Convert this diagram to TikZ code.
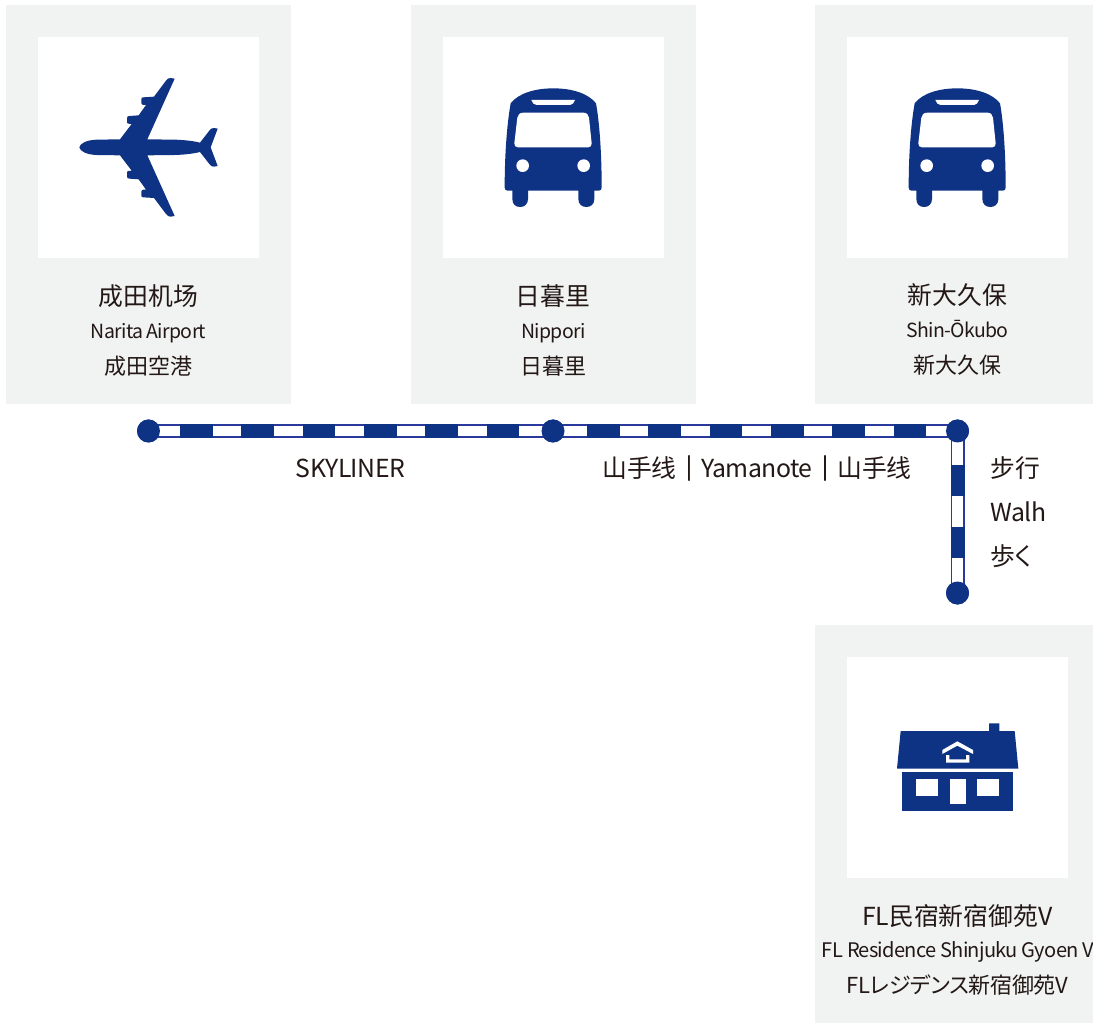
\documentclass[tikz,border=0pt]{standalone}
\usepackage{fontspec}
\setmainfont{Noto Sans CJK SC}
\newfontfamily\jpfont[RawFeature=+palt]{Noto Sans CJK JP}
\newfontfamily\jptight[RawFeature=+palt,LetterSpace=-1.5]{Noto Sans CJK JP}
\newfontfamily\tightfont[LetterSpace=-3.5]{Noto Sans CJK SC}
\newfontfamily\latinfont[LetterSpace=-2]{Noto Sans CJK SC}
\newfontfamily\barfont[FakeBold=2.5]{Noto Sans CJK SC}
\definecolor{navy}{HTML}{0F3384}
\definecolor{edgeblue}{HTML}{2A3A9C}
\definecolor{panelgrey}{HTML}{F1F3F3}
\definecolor{ink}{HTML}{231815}
\tikzset{
  panel/.style={fill=panelgrey,inner sep=0pt,minimum height=399*0.75pt,text width=0pt},
  tile/.style={fill=white,inner sep=0pt,minimum width=221*0.75pt,minimum height=221*0.75pt},
  stop/.style={circle,fill=navy,inner sep=0pt,minimum size=23*0.75pt},
  label/.style={text=ink,inner sep=0pt,anchor=center,align=center},
  big/.style={label,font=\fontsize{18.6pt}{22pt}\selectfont},
  small/.style={label,anchor=base,font=\tightfont\fontsize{14.6pt}{18pt}\selectfont},
  mid/.style={label,font=\jpfont\fontsize{16.5pt}{20pt}\selectfont},
  routebase/.style={line width=14*0.75pt,edgeblue},
  routewhite/.style={line width=10.5*0.75pt,white},
  routedark/.style={line width=14*0.75pt,navy},
  icon/.style={fill=navy,draw=none},
  iconw/.style={fill=white,draw=none},
  zoomed/.style={x=0.25pt,y=-0.25pt}
}
\newcommand{\busicon}{%
  \fill[icon] (62,85) .. controls (85,55) and (135,40) .. (190,40) .. controls (245,40) and (295,55) .. (318,85)
    .. controls (328,140) and (335,230) .. (335,338) .. controls (335,344) and (332,347) .. (326,347)
    -- (313,347) -- (313,372) .. controls (313,388) and (302,396) .. (289,396) .. controls (276,396) and (265,388) .. (265,372) -- (265,347)
    -- (114,347) -- (114,372) .. controls (114,388) and (103,396) .. (90,396) .. controls (77,396) and (67,388) .. (67,372) -- (67,347)
    -- (53,347) .. controls (47,347) and (44,344) .. (44,338) .. controls (44,230) and (52,140) .. (62,85) -- cycle;
  \fill[iconw] (100,113) -- (280,113) .. controls (290,113) and (296,119) .. (297,128) -- (305,205)
    .. controls (305,212) and (302,217) .. (295,217) -- (84,217) .. controls (77,217) and (72,212) .. (73,205) -- (82,128) .. controls (83,119) and (90,113) .. (100,113) -- cycle;
  \fill[iconw] (98,272) circle [radius=19];
  \fill[iconw] (281,272) circle [radius=19];
  \fill[iconw] (124,75) -- (255,75) .. controls (252,84) and (247,90) .. (240,90) -- (140,90) .. controls (132,90) and (127,84) .. (124,75) -- cycle;
}
\begin{document}
\begin{tikzpicture}[x=0.75pt,y=-0.75pt]
\useasboundingbox (0,0) rectangle (1093,1023);
\fill[white] (0,0) rectangle (1093,1023);
% panels
\node[panel,minimum width=285*0.75pt] (p1) at (148.5,204.5) {};
\node[panel,minimum width=285*0.75pt] (p2) at (553.5,204.5) {};
\node[panel,minimum width=278*0.75pt] (p3) at (954,204.5) {};
\node[panel,minimum width=278*0.75pt] (p4) at (954,824) {};
\node[tile] (t1) at (148.5,147.5) {};
\node[tile] (t2) at (553.5,147.5) {};
\node[tile] (t3) at (957.5,147.5) {};
\node[tile] (t4) at (957.5,767.5) {};
% plane
\begin{scope}[shift={(60,60)},zoomed]
\fill[icon] (58,262) .. controls (60,250) and (80,240) .. (110,239) -- (180,238) -- (215,192) -- (205,191) .. controls (201,190) and (201,188) .. (201,184)
 -- (201,175) .. controls (201,170) and (203,168) .. (208,168) -- (236,166) -- (258,135) -- (250,135) .. controls (245,134) and (244,132) .. (244,128)
 -- (244,118) .. controls (244,113) and (246,112) .. (250,112) -- (282,110) -- (318,62) .. controls (322,56) and (326,54) .. (332,54) -- (344,56)
 -- (262,238) -- (345,239) .. controls (375,240) and (400,243) .. (420,248) -- (448,212) .. controls (452,206) and (456,204) .. (462,204) -- (473,206)
 -- (452,262) -- (473,318) -- (462,320) .. controls (456,320) and (452,318) .. (448,312) -- (420,276) .. controls (400,281) and (375,284) .. (345,285)
 -- (262,286) -- (344,468) -- (332,470) .. controls (326,470) and (322,468) .. (318,462) -- (282,414) -- (250,412) .. controls (246,412) and (244,411) .. (244,406)
 -- (244,396) .. controls (244,392) and (245,390) .. (250,389) -- (258,389) -- (236,358) -- (208,356) .. controls (203,356) and (201,354) .. (201,349)
 -- (201,340) .. controls (201,336) and (201,334) .. (205,333) -- (215,332) -- (180,286) -- (110,285) .. controls (80,284) and (60,274) .. (58,262) -- cycle;
\end{scope}
% buses
\begin{scope}[shift={(490,75)},zoomed]\busicon\end{scope}
\begin{scope}[shift={(894,75)},zoomed]\busicon\end{scope}
% house
\begin{scope}[shift={(885,710)},zoomed]
\fill[icon] (47,63) -- (312,63) -- (312,40) -- (343,40) -- (343,63) -- (389,63) -- (400,176) -- (36,176) -- cycle;
\fill[icon] (52,186) rectangle (384,304);
\fill[iconw] (93,206) rectangle (159,258);
\fill[iconw] (194,206) rectangle (242,283);
\fill[iconw] (277,206) rectangle (343,258);
\fill[iconw] (172,120) -- (217,94) -- (264,120) -- (264,132) -- (217,107) -- (172,132) -- cycle;
\fill[iconw] (183,135) -- (183,158) -- (253,158) -- (253,135) -- (243,135) -- (243,148) -- (193,148) -- (193,135) -- cycle;
\end{scope}
% stops
\node[stop] (s1) at (148.5,431) {};
\node[stop] (s2) at (553,431) {};
\node[stop] (s3) at (957.5,431) {};
\node[stop] (s4) at (957.5,593) {};
% routes
\draw[routebase] (s1.center) -- (s2.center);
\draw[routewhite] (s1.center) -- (s2.center);
\draw[routedark,dash=on 24.5pt off 21.5pt phase 22.5pt] (s1.center) -- (s2.center);
\draw[routebase] (s2.center) -- (s3.center);
\draw[routewhite] (s2.center) -- (s3.center);
\draw[routedark,dash=on 24.5pt off 21.5pt phase 20.5pt] (s2.center) -- (s3.center);
\draw[routebase] (s3.center) -- (s4.center);
\draw[routewhite] (s3.center) -- (s4.center);
\draw[routedark,dash=on 23.25pt off 23.25pt phase 21pt] (s3.center) -- (s4.center);
\node[stop] at (s1) {};
\node[stop] at (s2) {};
\node[stop] at (s3) {};
\node[stop] at (s4) {};
% labels
\node[big] (a1) at (148.5,296) {成田机场};
\node[small] (a2) at (148.5,339) {Narita Airport};
\node[mid] (a3) at (148.5,366) {成田空港};
\node[big] (b1) at (553,296) {日暮里};
\node[small] (b2) at (553.5,339) {Nippori};
\node[mid] (b3) at (553.5,366) {日暮里};
\node[big] (c1) at (957.5,295) {新大久保};
\node[small] (c2) at (957.5,338) {Shin-Ōkubo};
\node[mid] (c3) at (957.5,365) {新大久保};
\node[big] (d1) at (957.5,916) {{\latinfont FL}民宿新宿御苑{\latinfont V}};
\node[small,font=\tightfont\fontsize{15.05pt}{18pt}\selectfont] (d2) at (958,957) {FL Residence Shinjuku Gyoen V};
\node[mid,font=\jptight\fontsize{16.5pt}{20pt}\selectfont] (d3) at (957.5,985) {FLレジデンス新宿御苑V};
\node[big,font=\latinfont\fontsize{18.6pt}{22pt}\selectfont] (r1) at (350.5,468) {SKYLINER};
\node[big] (r2) at (757,468) {山手线{\barfont ｜}{\latinfont Yamanote}{\barfont ｜}山手线};
\node[big,anchor=west] (w1) at (990,468) {步行};
\node[big,anchor=west,font=\latinfont\fontsize{18.6pt}{22pt}\selectfont] (w2) at (990,512) {Walh};
\node[big,anchor=west,font=\jpfont\fontsize{18.6pt}{22pt}\selectfont] (w3) at (990,556) {歩く};
\end{tikzpicture}
\end{document}
